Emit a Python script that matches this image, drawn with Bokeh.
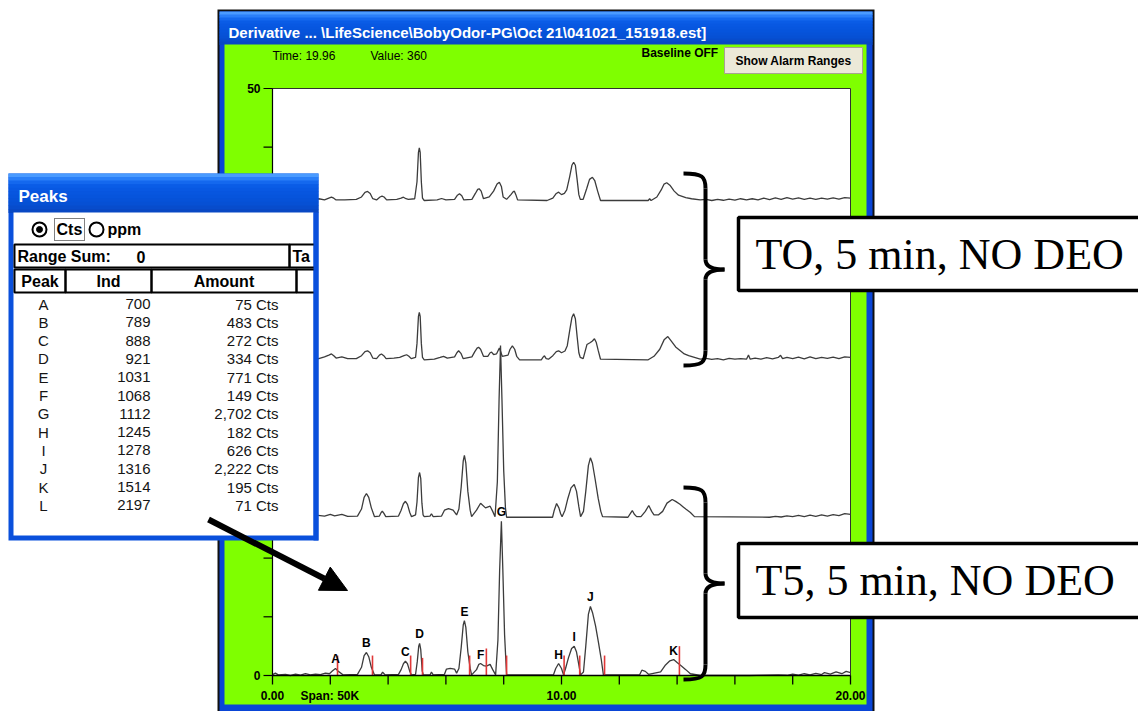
from bokeh.plotting import figure
from bokeh.models import Range1d, Arrow, NormalHead
from bokeh.core.properties import value
from bokeh.embed import file_html
from bokeh.resources import INLINE

# ---------------- data (time in min, value in chart units above each trace's baseline) ----------------
trace_offsets = [40.46, 26.89, 13.48, 0.0]

trace_to_a = [(0.0,0.1),(0.3,0.15),(0.6,0.05),(0.9,0.15),(1.2,0.05),(1.6,0.15),(1.8,0.05),(1.95,0.2),(2.04,0.28),(2.12,0.2),
    (2.2,0.05),(2.5,0.05),(2.9,0.1),(3.08,0.3),(3.2,0.7),(3.29,0.77),(3.38,0.6),(3.47,0.15),(3.6,0.05),(3.72,0.3),
    (3.79,0.37),(3.86,0.3),(3.95,0.05),(4.3,0.1),(4.45,0.2),(4.53,0.28),(4.62,0.15),(4.7,0.1),(4.92,0.15),(5.0,1.6),
    (5.05,4.1),(5.08,4.49),(5.11,4.1),(5.15,1.6),(5.19,0.2),(5.25,0.0),(5.7,0.05),(5.85,0.17),(6.0,0.05),(6.3,0.1),
    (6.4,0.45),(6.47,0.57),(6.55,0.4),(6.62,0.05),(6.9,0.1),(7.02,0.6),(7.1,0.95),(7.15,1.0),(7.22,0.8),(7.3,0.15),
    (7.5,0.3),(7.65,0.8),(7.77,1.4),(7.85,1.56),(7.92,1.2),(7.98,0.3),(8.1,0.1),(8.25,0.5),(8.33,0.75),(8.37,0.79),
    (8.42,0.5),(8.48,0.05),(9.5,0.0),(9.7,0.2),(9.82,0.6),(9.9,0.71),(10.0,0.5),(10.1,0.6),(10.18,0.9),(10.28,2.0),
    (10.36,3.0),(10.42,3.26),(10.48,3.0),(10.54,1.8),(10.6,0.5),(10.65,0.1),(10.75,0.1),(10.87,1.0),(10.97,1.8),(11.07,1.98),
    (11.15,1.7),(11.25,0.8),(11.35,0.0),(13.0,0.0),(13.05,0.15),(13.1,0.0),(13.3,0.3),(13.45,0.9),(13.55,1.4),(13.64,1.51),
    (13.75,1.3),(13.9,0.8),(14.05,0.45),(14.3,0.25),(14.5,0.15),(14.8,0.05),(15.0,0.1),(15.2,0.0),(15.4,0.1),(15.6,0.02),
    (15.8,0.12),(16.0,0.03),(16.2,0.15),(16.4,0.05),(16.6,0.15),(16.8,0.05),(17.0,0.2),(17.2,0.08),(17.4,0.22),(17.6,0.1),
    (17.8,0.25),(18.0,0.12),(18.2,0.22),(18.4,0.1),(18.6,0.2),(18.8,0.1),(19.0,0.2),(19.2,0.12),(19.4,0.22),(19.6,0.12),
    (19.8,0.25),(20.0,0.2)]

trace_to_b = [(0.0,0.15),(0.3,0.05),(0.6,0.2),(0.9,0.05),(1.2,0.2),(1.6,0.1),(1.8,0.25),(1.95,0.4),(2.04,0.5),(2.12,0.35),
    (2.2,0.15),(2.4,0.25),(2.6,0.1),(2.9,0.1),(3.08,0.35),(3.2,0.7),(3.29,0.77),(3.38,0.6),(3.47,0.15),(3.6,0.1),
    (3.7,0.4),(3.77,0.5),(3.85,0.35),(3.93,0.1),(4.2,0.15),(4.4,0.2),(4.55,0.35),(4.64,0.43),(4.72,0.3),(4.8,0.1),
    (4.95,0.2),(5.0,1.4),(5.05,3.7),(5.08,4.05),(5.11,3.7),(5.15,1.4),(5.19,0.2),(5.25,0.0),(5.6,0.05),(5.8,0.2),
    (5.92,0.3),(6.05,0.15),(6.3,0.25),(6.38,0.6),(6.44,0.77),(6.52,0.55),(6.6,0.1),(6.9,0.25),(7.0,0.7),(7.08,1.0),
    (7.13,1.07),(7.2,0.9),(7.3,0.3),(7.45,0.3),(7.53,0.6),(7.58,0.65),(7.65,0.45),(7.75,0.5),(7.85,1.0),(7.95,0.3),
    (8.15,0.4),(8.22,0.9),(8.3,1.19),(8.38,0.9),(8.45,0.3),(8.55,0.0),(9.3,0.0),(9.37,0.25),(9.41,0.34),(9.47,0.1),
    (9.55,0.05),(9.7,0.35),(9.82,0.7),(9.9,0.77),(10.0,0.6),(10.12,0.75),(10.2,1.2),(10.29,2.6),(10.36,3.6),(10.42,3.92),
    (10.48,3.5),(10.54,2.0),(10.6,0.6),(10.65,0.2),(10.75,0.1),(10.88,1.3),(11.0,1.47),(11.07,1.6),(11.14,1.79),(11.2,1.5),
    (11.27,0.8),(11.35,0.05),(13.0,0.0),(13.2,0.3),(13.4,0.9),(13.55,1.7),(13.68,1.98),(13.8,1.6),(13.95,1.1),(14.1,0.8),
    (14.25,0.5),(14.4,0.35),(14.6,0.2),(14.8,0.05),(15.0,0.12),(15.2,0.03),(15.4,0.1),(15.6,0.0),(15.8,0.12),(16.0,0.05),
    (16.2,0.1),(16.4,0.05),(16.47,0.4),(16.53,0.05),(16.7,0.15),(16.9,0.05),(17.1,0.18),(17.3,0.08),(17.5,0.2),(17.58,0.38),
    (17.65,0.1),(17.8,0.2),(18.0,0.1),(18.2,0.22),(18.4,0.08),(18.6,0.25),(18.8,0.1),(19.0,0.2),(19.2,0.12),(19.4,0.22),
    (19.6,0.1),(19.8,0.25),(20.0,0.2)]

trace_t5_a = [(0.0,0.1),(0.3,0.18),(0.6,0.05),(0.9,0.18),(1.2,0.08),(1.5,0.18),(1.8,0.1),(2.0,0.25),(2.15,0.12),(2.4,0.25),
    (2.6,0.08),(2.94,0.1),(3.08,0.7),(3.17,1.7),(3.25,2.02),(3.33,1.7),(3.42,0.8),(3.53,0.05),(3.7,0.1),(3.76,0.4),
    (3.8,0.51),(3.85,0.35),(3.92,0.05),(4.36,0.1),(4.45,0.6),(4.53,1.15),(4.6,1.36),(4.67,1.1),(4.75,0.4),(4.81,0.05),
    (4.95,0.2),(5.0,1.3),(5.05,3.4),(5.09,3.81),(5.13,3.3),(5.17,1.2),(5.21,0.2),(5.25,0.05),(5.45,0.1),(5.5,0.3),
    (5.56,0.05),(5.85,0.1),(5.95,0.6),(6.09,0.74),(6.25,0.6),(6.37,0.2),(6.45,0.7),(6.53,2.6),(6.6,4.8),(6.64,5.26),
    (6.69,4.6),(6.76,2.2),(6.84,0.6),(6.89,0.05),(7.06,0.6),(7.2,1.19),(7.37,0.8),(7.53,0.94),(7.62,0.5),(7.7,0.05),
    (7.78,3.0),(7.84,10.0),(7.89,14.63),(7.94,10.0),(8.0,4.0),(8.06,0.8),(8.1,0.0),(9.69,0.0),(9.75,0.6),(9.83,1.17),
    (9.91,0.8),(9.97,0.3),(10.02,0.05),(10.12,0.6),(10.22,1.6),(10.33,2.5),(10.44,2.79),(10.52,2.2),(10.6,0.9),(10.66,0.05),
    (10.76,0.5),(10.84,2.2),(10.93,4.4),(11.0,5.06),(11.07,4.6),(11.16,3.3),(11.27,1.6),(11.36,0.5),(11.42,0.05),(12.3,0.0),
    (12.38,0.3),(12.45,0.57),(12.52,0.25),(12.6,0.05),(12.75,0.05),(12.9,0.5),(13.02,1.0),(13.12,0.5),(13.2,0.2),(13.35,0.2),
    (13.5,0.5),(13.65,1.2),(13.83,1.51),(13.95,1.35),(14.1,1.1),(14.2,0.9),(14.3,0.7),(14.46,0.4),(14.6,0.05),(17.2,0.0),
    (17.4,0.08),(17.6,0.02),(17.8,0.12),(18.0,0.05),(18.2,0.15),(18.4,0.06),(18.6,0.18),(18.8,0.08),(19.0,0.2),(19.2,0.1),
    (19.4,0.22),(19.6,0.14),(19.8,0.3),(20.0,0.25)]

trace_t5_b = [(0.0,0.08),(0.1,0.2),(0.2,0.05),(0.45,0.1),(0.62,0.0),(0.8,0.12),(0.97,0.04),(1.14,0.15),(1.31,0.05),(1.49,0.12),
    (1.66,0.08),(1.83,0.2),(1.97,0.15),(2.08,0.4),(2.18,0.6),(2.28,0.35),(2.45,0.05),(2.94,0.1),(3.08,0.7),(3.17,1.7),
    (3.25,1.96),(3.33,1.6),(3.42,0.7),(3.53,0.05),(3.75,0.05),(3.81,0.28),(3.9,0.05),(4.36,0.1),(4.45,0.5),(4.53,1.0),
    (4.6,1.22),(4.67,1.0),(4.75,0.35),(4.81,0.05),(4.95,0.1),(5.01,1.2),(5.06,2.5),(5.09,2.73),(5.13,2.2),(5.18,0.4),
    (5.22,0.05),(5.45,0.05),(5.5,0.3),(5.56,0.05),(5.95,0.1),(6.02,0.55),(6.15,0.6),(6.3,0.55),(6.37,0.2),(6.45,0.6),
    (6.53,2.4),(6.6,4.3),(6.64,4.68),(6.69,4.1),(6.76,2.0),(6.84,0.6),(6.89,0.05),(7.06,0.5),(7.14,0.95),(7.2,1.02),
    (7.3,0.85),(7.4,0.8),(7.53,0.95),(7.62,0.5),(7.72,0.05),(7.8,3.0),(7.86,9.0),(7.92,13.14),(7.97,9.0),(8.03,3.5),
    (8.1,0.05),(9.72,0.05),(9.8,0.6),(9.9,1.02),(10.0,0.6),(10.07,0.05),(10.14,0.6),(10.24,1.5),(10.35,2.3),(10.44,2.5),
    (10.52,2.0),(10.6,0.9),(10.66,0.05),(10.76,0.3),(10.84,2.5),(10.93,5.2),(11.0,5.88),(11.08,5.3),(11.18,4.2),(11.28,2.8),
    (11.38,1.3),(11.45,0.05),(12.7,0.05),(12.78,0.45),(12.9,0.35),(13.01,0.1),(13.43,0.3),(13.6,0.9),(13.75,1.25),(13.88,1.36),
    (14.0,1.1),(14.15,0.8),(14.3,0.5),(14.46,0.15),(14.81,0.0),(16.5,0.0),(17.0,0.03),(17.5,0.06),(17.8,0.02),(18.0,0.12),
    (18.2,0.04),(18.4,0.15),(18.6,0.06),(18.8,0.18),(19.0,0.08),(19.1,0.25),(19.3,0.12),(19.5,0.3),(19.7,0.15),(19.85,0.35),
    (20.0,0.25)]

traces = [trace_to_a, trace_to_b, trace_t5_a, trace_t5_b]

peak_letters = ["A", "B", "C", "D", "E", "F", "G", "H", "I", "J", "K"]
peak_t = [2.18, 3.25, 4.60, 5.09, 6.64, 7.20, 7.92, 9.90, 10.44, 11.00, 13.88]
peak_v = [0.60, 1.96, 1.22, 2.73, 4.68, 1.02, 13.14, 1.02, 2.50, 5.88, 1.36]
marker_t = [2.25, 3.46, 4.78, 5.19, 6.82, 7.40, 8.10, 10.09, 10.63, 11.49, 14.08]
marker_v = [1.7, 1.7, 1.7, 1.5, 1.7, 2.3, 1.7, 1.7, 1.7, 1.7, 2.5]

table_peak = ["A", "B", "C", "D", "E", "F", "G", "H", "I", "J", "K", "L"]
table_ind = ["700", "789", "888", "921", "1031", "1068", "1112", "1245", "1278", "1316", "1514", "2197"]
table_amount = ["75 Cts", "483 Cts", "272 Cts", "334 Cts", "771 Cts", "149 Cts", "2,702 Cts", "182 Cts",
                "626 Cts", "2,222 Cts", "195 Cts", "71 Cts"]

x_ticks = [0, 2, 4, 6, 8, 10, 12, 14, 16, 18, 20]
x_label_ticks = [0, 10, 20]
x_labels = ["0.00", "10.00", "20.00"]
y_ticks = [0, 5, 10, 15, 20, 25, 30, 35, 40, 45, 50]
y_label_ticks = [0, 50]
y_labels = ["0", "50"]

title_text = "Derivative ... \\LifeScience\\BobyOdor-PG\\Oct 21\\041021_151918.est]"
callouts = ["TO, 5 min, NO DEO", "T5, 5 min, NO DEO"]

# ---------------- layout (page units of the 1138x711 picture) ----------------
W, H = 1138, 711
RW, RH = 1138, 711
PL, PR, PT, PB = 272, 850, 88, 675
TMAX, VMAX = 20.0, 50.0
tpp = TMAX / (PR - PL)
vpp = VMAX / (PB - PT)

p = figure(width=W, height=H, x_range=Range1d(0, RW), y_range=Range1d(RH, 0),
           output_backend="svg", toolbar_location=None, min_border=0,
           x_axis_location=None, y_axis_location=None)
p.grid.visible = False
p.outline_line_color = None
p.background_fill_color = "white"
p.border_fill_color = "white"
p.extra_x_ranges = {"t": Range1d((0 - PL) * tpp, (RW - PL) * tpp)}
p.extra_y_ranges = {"v": Range1d((PB - RH) * vpp, (PB - 0) * vpp)}
D = dict(x_range_name="t", y_range_name="v")

SANS = value("Liberation Sans")
SERIF = value("Liberation Serif")


def txt(x, y, s, size=12, bold=False, color="black", align="left", baseline="middle", font=SANS, **kw):
    p.text(x=x if isinstance(x, list) else [x], y=y if isinstance(y, list) else [y],
           text=s if isinstance(s, list) else [s], text_font=font, text_font_size=f"{size}px",
           text_font_style="bold" if bold else "normal", text_color=color,
           text_align=align, text_baseline=baseline, **kw)


def box(l, r, t, b, fill, line=None, lw=1, dash="solid"):
    p.quad(left=[l], right=[r], top=[t], bottom=[b], fill_color=fill, line_color=line,
           line_width=lw, line_dash=dash)


def title_bar(l, r, t, b):
    cols = ["#4A9BFF", "#2A7FF8", "#1468EE", "#0A5CE6", "#0858E2", "#0756DF", "#0654DC",
            "#0652D8", "#0650D4", "#074CCC", "#0848C4"]
    n = len(cols)
    step = (b - t) / n
    for i, c in enumerate(cols):
        box(l, r, t + i * step, t + (i + 1) * step + 0.5, c)


# main window
box(217, 874, 9, 712, "#101010")
box(219, 872, 11, 712, "#0A45D6")
title_bar(219, 872, 11, 44)
box(224, 866, 44, 704, "#7FFF00")
txt(228, 32, title_text, size=15, bold=True, color="white")
txt(272, 55, "Time:  19.96", size=12)
txt(370, 55, "Value:  360", size=12)
txt(641, 52, "Baseline OFF", size=12, bold=True)
box(724, 862, 47, 73, "#ECE9D8", line="#A8A490", lw=1)
txt(793, 60, "Show Alarm Ranges", size=12, bold=True, align="center")

# plot area
p.quad(left=[0], right=[TMAX], bottom=[0], top=[VMAX], fill_color="white",
       line_color="#303030", line_width=1, **D)

# traces
for pts, off in zip(traces, trace_offsets):
    p.line([a for a, _ in pts], [b + off for _, b in pts], line_color="#3c3c3c", line_width=1.3, **D)

# peak markers and labels (bottom trace)
p.segment(x0=marker_t, y0=[0] * len(marker_t), x1=marker_t, y1=marker_v,
          line_color="#E03838", line_width=1.6, **D)
p.text(x=peak_t, y=peak_v, text=peak_letters, text_font=SANS, text_font_size="12px",
       text_font_style="bold", text_color="black", text_align="center", text_baseline="bottom",
       y_offset=-2, **D)

# axes
p.segment(x0=[0], y0=[0], x1=[TMAX], y1=[0], line_color="black", line_width=1.5, **D)
p.segment(x0=[0], y0=[0], x1=[0], y1=[VMAX], line_color="black", line_width=1.2, **D)
p.segment(x0=x_ticks, y0=[0] * len(x_ticks), x1=x_ticks, y1=[-9 * vpp] * len(x_ticks),
          line_color="black", line_width=1.3, **D)
p.segment(x0=[0] * len(y_ticks), y0=y_ticks, x1=[-9 * tpp] * len(y_ticks), y1=y_ticks,
          line_color="black", line_width=1.2, **D)
p.text(x=x_label_ticks, y=[0] * 3, text=x_labels, text_font=SANS, text_font_size="12px",
       text_font_style="bold", text_color="black", text_align="center", text_baseline="middle",
       y_offset=20, **D)
p.text(x=[0, 0], y=y_label_ticks, text=y_labels, text_font=SANS, text_font_size="12px",
       text_font_style="bold", text_color="black", text_align="right", text_baseline="middle",
       x_offset=-12, **D)
txt(300, 695, "Span: 50K", size=12, bold=True)


# braces
def brace(xl, xm, xt, yt, yb):
    yc = (yt + yb) / 2
    r = 15
    p.bezier(x0=[xl, xm, xt, xm], y0=[yt, yc - 10, yc, yb - r],
             x1=[xm, xt, xm, xl], y1=[yt + r, yc, yc + 10, yb],
             cx0=[xm - 3, xm, xm + 7, xm], cy0=[yt, yc - 3, yc, yb - 3],
             cx1=[xm, xm + 7, xm, xm - 3], cy1=[yt + 3, yc, yc + 3, yb],
             line_color="black", line_width=4)
    p.segment(x0=[xm, xm], y0=[yt + r, yc + 10], x1=[xm, xm], y1=[yc - 10, yb - r],
              line_color="black", line_width=4)


brace(683, 705, 724, 173, 365)
brace(683, 705, 724, 487, 679)

# callout boxes
for (t0, b0), s in zip([(217, 290), (543, 617)], callouts):
    box(738, 1150, t0, b0, "white", line="black", lw=3.5)
    txt(755, (t0 + b0) / 2, s, size=44, font=SERIF)

# Peaks panel
box(8, 318, 173, 540, "#0A50DC")
title_bar(8, 318, 173, 212)
box(13, 313, 212, 535, "white")
txt(18, 196, "Peaks", size=17, bold=True, color="white")
p.scatter(x=[39, 96], y=[229, 229], size=14, marker="circle", fill_color="white",
          line_color="black", line_width=2)
p.scatter(x=[39], y=[229], size=6, marker="circle", fill_color="black", line_color="black")
box(54, 84, 218, 240, None, line="black", lw=1, dash="1 1")
txt(56, 229, "Cts", size=16, bold=True)
txt(107, 229, "ppm", size=16, bold=True)
box(14, 289, 244, 267, None, line="black", lw=2)
box(289, 316, 244, 267, None, line="black", lw=2)
txt(17, 256, "Range Sum:", size=16, bold=True)
txt(136, 256, "0", size=16, bold=True)
txt(292, 256, "Ta", size=16, bold=True)
for l, r, s in [(14, 65, "Peak"), (65, 151, "Ind"), (151, 296, "Amount"), (296, 316, "")]:
    box(l, r, 269, 292, None, line="black", lw=2)
    if s:
        txt((l + r) / 2, 280.5, s, size=16, bold=True, align="center")
box(313, 318, 212, 540, "#0A50DC")
row_y = [303.5 + 18.3 * i for i in range(len(table_peak))]
txt([43] * len(row_y), row_y, table_peak, size=15, color="#151515", align="center")
txt([150] * len(row_y), row_y, table_ind, size=15, color="#151515", align="right")
txt([278] * len(row_y), row_y, table_amount, size=15, color="#151515", align="right")

# arrow
p.add_layout(Arrow(end=NormalHead(size=26, fill_color="black", line_color="black"),
                   x_start=208, y_start=519, x_end=347, y_end=590,
                   line_width=6, line_color="black"))

open("out.html", "w").write(file_html(p, INLINE))
